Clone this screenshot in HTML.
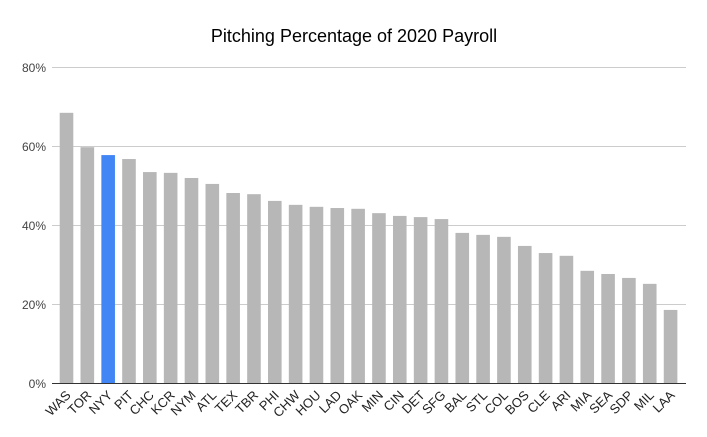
<!DOCTYPE html>
<html><head><style>body{margin:0;background:#fff}svg{display:block}</style></head><body>
<svg width="707" height="437" xmlns="http://www.w3.org/2000/svg" font-family="Liberation Sans, sans-serif">
<rect width="707" height="437" fill="#fff"/>
<text x="354" y="42" text-anchor="middle" font-size="18" fill="#000">Pitching Percentage of 2020 Payroll</text>
<g stroke="#ccc" stroke-width="1">
<line x1="52" x2="686" y1="67.5" y2="67.5"/>
<line x1="52" x2="686" y1="146.5" y2="146.5"/>
<line x1="52" x2="686" y1="225.5" y2="225.5"/>
<line x1="52" x2="686" y1="304.5" y2="304.5"/>
</g>
<g font-size="12" fill="#444" text-anchor="end">
<text x="46" y="72">80%</text>
<text x="46" y="151">60%</text>
<text x="46" y="230">40%</text>
<text x="46" y="309">20%</text>
<text x="46" y="388">0%</text>
</g>
<g id="bars"></g>
<line x1="52" x2="686" y1="383.5" y2="383.5" stroke="#333" stroke-width="1"/>
<g id="labels" font-size="13" fill="#222" text-anchor="end"></g>
<script>
var d=[["WAS",68.4],["TOR",59.7],["NYY",57.7],["PIT",56.7],["CHC",53.4],["KCR",53.2],["NYM",51.9],["ATL",50.4],["TEX",48.1],["TBR",47.8],["PHI",46.1],["CHW",45.1],["HOU",44.6],["LAD",44.3],["OAK",44.1],["MIN",43],["CIN",42.3],["DET",42],["SFG",41.5],["BAL",38],["STL",37.5],["COL",37],["BOS",34.7],["CLE",32.9],["ARI",32.2],["MIA",28.4],["SEA",27.6],["SDP",26.6],["MIL",25.1],["LAA",18.5]];
var ns="http://www.w3.org/2000/svg",b=document.getElementById("bars"),l=document.getElementById("labels");
d.forEach(function(e,i){var cx=66.5+i*20.83,h=e[1]*3.95;
var r=document.createElementNS(ns,"rect");r.setAttribute("x",cx-6.8);r.setAttribute("width",13.6);r.setAttribute("y",383-h);r.setAttribute("height",h);r.setAttribute("fill",e[0]=="NYY"?"#4285f4":"#b7b7b7");b.appendChild(r);
var t=document.createElementNS(ns,"text");t.setAttribute("x",cx+5);t.setAttribute("y",396);t.setAttribute("transform","rotate(-45 "+(cx+5)+" 396)");t.textContent=e[0];l.appendChild(t);});
</script>
</svg>
</body></html>
